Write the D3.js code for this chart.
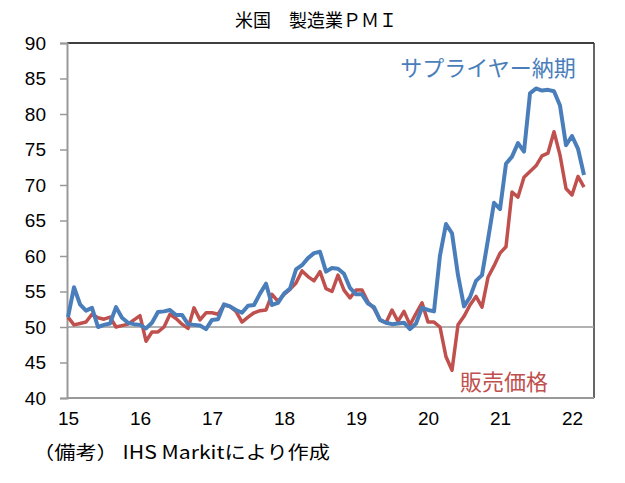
<!DOCTYPE html>
<html>
<head>
<meta charset="utf-8">
<script src="https://cdn.jsdelivr.net/npm/d3@7"></script>
<style>
  body { margin: 0; background: #fff; }
  svg { display: block; }
</style>
</head>
<body>
<div id="chart"></div>
<script>
const width = 625;
const height = 483;

// months from Jan 2015 (index 0) to Mar 2022 (index 86)
const yearLabels = ['15', '16', '17', '18', '19', '20', '21', '22'];
const yearStarts = [0, 12, 24, 36, 48, 60, 72, 84];

const supplierDelivery = [
  51.4, 55.6, 53.2, 52.3, 52.7, 50.0, 50.3, 50.5, 52.8, 51.3, 50.6, 50.4,
  50.3, 49.8, 50.6, 52.1, 52.2, 52.4, 51.7, 51.7, 50.4, 50.3, 50.2, 49.7,
  51.0, 51.1, 53.2, 52.9, 52.4, 52.0, 53.0, 53.1, 54.7, 56.1, 53.1, 53.4,
  54.7, 55.4, 58.1, 58.7, 59.7, 60.4, 60.6, 57.8, 58.3, 58.2, 57.5, 55.5,
  54.6, 54.6, 53.3, 52.8, 51.0, 50.6, 50.4, 50.5, 50.6, 49.7, 50.5, 52.7,
  52.4, 52.2, 60.1, 64.5, 63.2, 57.3, 52.9, 54.2, 56.5, 57.3, 62.3, 67.5,
  66.6, 73.0, 74.0, 75.9, 74.7, 82.9, 83.6, 83.3, 83.4, 83.2, 81.2, 75.6,
  76.9, 75.1, 71.4
];

const outputPrices = [
  51.4, 50.3, 50.5, 50.7, 51.8, 51.3, 51.1, 51.4, 50.0, 50.2, 50.4, 51.0,
  51.6, 48.0, 49.3, 49.3, 50.0, 51.8, 51.2, 50.4, 49.8, 52.7, 51.0, 52.0,
  52.0, 51.8, 53.1, 52.9, 52.2, 50.7, 51.4, 52.0, 52.3, 52.4, 54.6, 53.6,
  54.6, 55.3, 56.2, 57.9, 57.1, 56.5, 57.8, 55.4, 55.0, 57.3, 55.2, 54.1,
  55.2, 55.2, 53.5, 52.6, 51.0, 50.6, 52.4, 50.8, 52.2, 50.3, 51.9, 53.4,
  50.7, 50.7, 50.0, 45.8, 43.9, 50.3, 51.5, 53.1, 54.3, 52.8, 57.0, 58.6,
  60.4, 61.3, 69.0, 68.3, 71.1, 71.9, 72.7, 74.1, 74.5, 77.5, 74.2, 69.5,
  68.6, 71.2, 69.7
];

const plot = { left: 67, right: 594, top: 43, bottom: 398 };

const svg = d3.select('#chart')
  .append('svg')
  .attr('width', width)
  .attr('height', height);

const x = d3.scaleLinear().domain([0, 86]).range([68, 584]);
const y = d3.scaleLinear().domain([40, 90]).range([plot.bottom, plot.top]);

const numFont = '"Liberation Sans", Arial, sans-serif';
const jpFont = '"Noto Sans CJK JP", sans-serif';

// title
svg.append('text')
  .attr('x', 316)
  .attr('y', 27)
  .attr('text-anchor', 'middle')
  .style('font-family', jpFont)
  .style('font-size', '18px')
  .text('米国　製造業ＰＭＩ');

// frame: top and right edges
svg.append('line')
  .attr('x1', plot.left).attr('x2', plot.right)
  .attr('y1', plot.top).attr('y2', plot.top)
  .attr('stroke', '#000').attr('stroke-width', 1.5);
svg.append('line')
  .attr('x1', plot.right).attr('x2', plot.right)
  .attr('y1', plot.top).attr('y2', plot.bottom)
  .attr('stroke', '#333').attr('stroke-width', 1.5);

// 50 line
svg.append('line')
  .attr('x1', plot.left).attr('x2', plot.right)
  .attr('y1', y(50)).attr('y2', y(50))
  .attr('stroke', '#999').attr('stroke-width', 1.5);

// y axis
const yAxis = svg.append('g')
  .attr('transform', `translate(${plot.left},0)`)
  .call(d3.axisLeft(y).tickValues(d3.range(40, 91, 5)).tickSize(7).tickPadding(14));
yAxis.select('.domain').attr('stroke', '#999').attr('stroke-width', 2);
yAxis.selectAll('.tick line').attr('stroke', '#999').attr('stroke-width', 1.5);
yAxis.selectAll('.tick text')
  .style('font-family', numFont)
  .style('font-size', '19px')
  .attr('fill', '#000');

// x axis
const xAxis = svg.append('g')
  .attr('transform', `translate(0,${plot.bottom})`)
  .call(d3.axisBottom(x).tickValues(yearStarts).tickSize(0).tickPadding(14)
    .tickFormat((d, i) => yearLabels[i]));
xAxis.select('.domain')
  .attr('d', `M${plot.left},0H${plot.right}`)
  .attr('stroke', '#999').attr('stroke-width', 2);
xAxis.selectAll('.tick text')
  .style('font-family', numFont)
  .style('font-size', '19px')
  .attr('fill', '#000');

// lines
const line = d3.line().x((d, i) => x(i)).y(d => y(d));

svg.append('path')
  .datum(outputPrices)
  .attr('d', line)
  .attr('fill', 'none')
  .attr('stroke', '#C0504D')
  .attr('stroke-width', 3.5)
  .attr('stroke-linejoin', 'round');

svg.append('path')
  .datum(supplierDelivery)
  .attr('d', line)
  .attr('fill', 'none')
  .attr('stroke', '#4A7EBB')
  .attr('stroke-width', 4)
  .attr('stroke-linejoin', 'round');

// series labels
svg.append('text')
  .attr('x', 488)
  .attr('y', 76)
  .attr('text-anchor', 'middle')
  .style('font-family', jpFont)
  .style('font-size', '22px')
  .attr('fill', '#4A7EBB')
  .text('サプライヤー納期');

svg.append('text')
  .attr('x', 504)
  .attr('y', 390)
  .attr('text-anchor', 'middle')
  .style('font-family', jpFont)
  .style('font-size', '22px')
  .attr('fill', '#C0504D')
  .text('販売価格');

// note
svg.append('text')
  .attr('x', 33)
  .attr('y', 459)
  .attr('textLength', 297)
  .attr('lengthAdjust', 'spacingAndGlyphs')
  .style('font-family', jpFont)
  .style('font-size', '18px')
  .text('（備考） IHS Markitにより作成');
</script>
</body>
</html>
